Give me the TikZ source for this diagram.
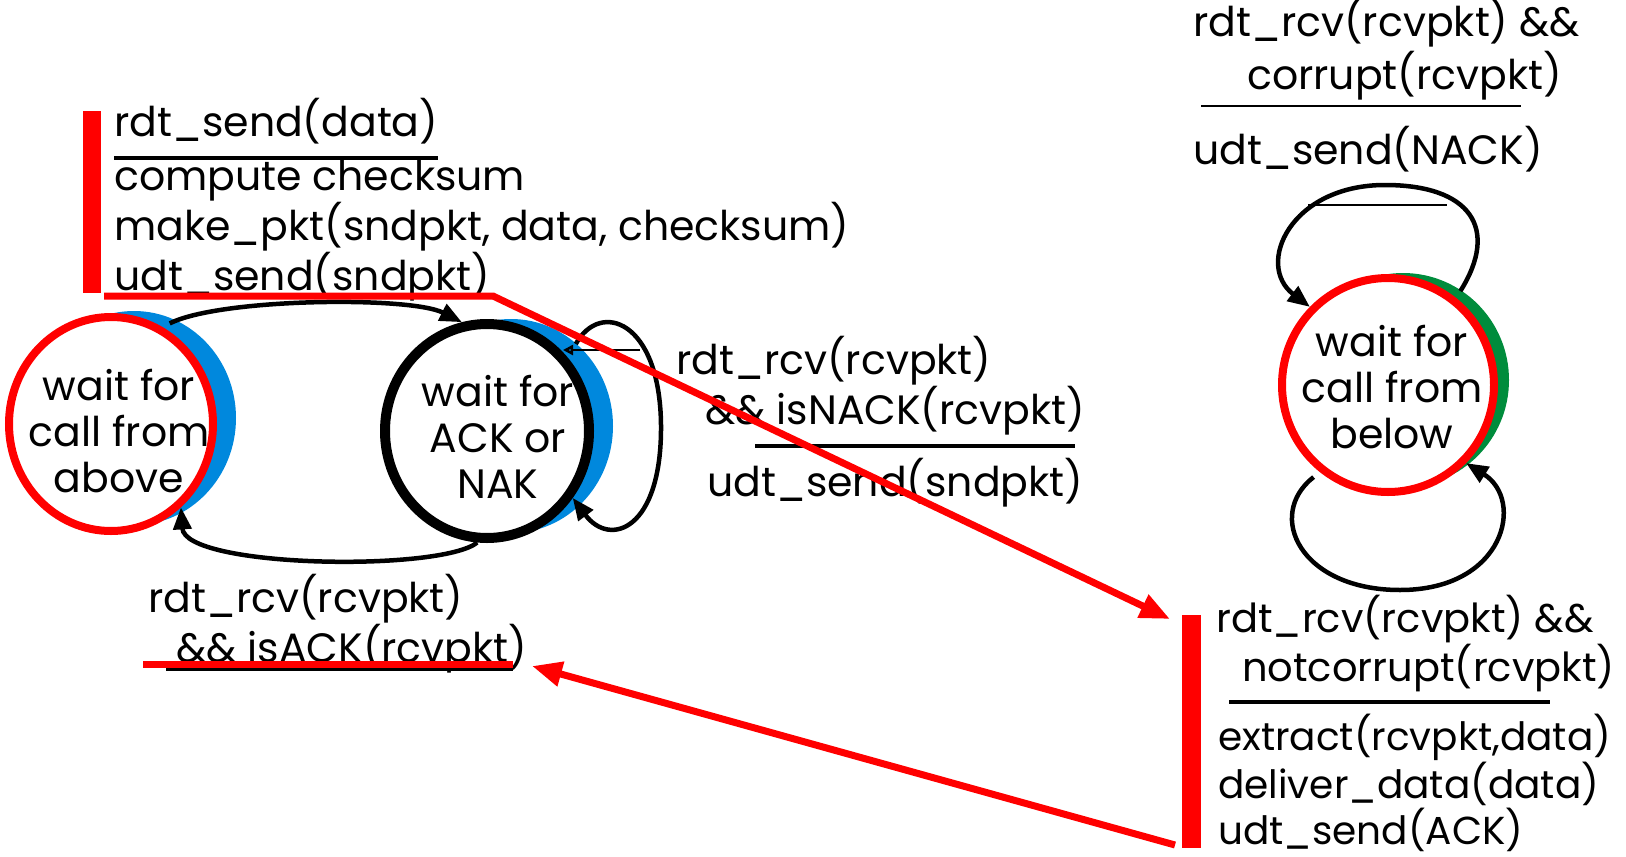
\documentclass[tikz,border=0pt]{standalone}
\usepackage{fontspec}
\setmainfont{Poppins}
\usepackage{tikz}
\usetikzlibrary{arrows.meta,shapes.geometric,positioning}
\definecolor{shadeblue}{RGB}{0,136,221}
\definecolor{shadegreen}{RGB}{0,140,60}

\begin{document}
\begin{tikzpicture}[
  x=1pt, y=-1pt,
  every node/.style={font=\fontsize{41}{46}\selectfont, inner sep=0pt},
  txt/.style={anchor=base west, align=left},
  fsmstate/.style={ellipse, minimum width=204pt, minimum height=214pt, fill=white},
  redring/.style={draw=red, line width=8pt},
  trans/.style={line width=4.5pt, -{Triangle[length=22pt,width=18pt]}},
  rule/.style={line width=4.5pt},
  hilite/.style={red, line width=7pt},
  hiarrow/.style={hilite, -{Triangle[length=30pt,width=24pt]}}
]
\useasboundingbox (0,0) rectangle (1626,857);

% states
\fill[shadeblue] (134,418) ellipse [x radius=102, y radius=107];
\node[fsmstate, redring, label={[xshift=8pt, yshift=-7pt, align=center]center:wait for\\call from\\above}] (above) at (111,424) {};
\fill[shadeblue] (511,426) ellipse [x radius=102, y radius=107];
\node[fsmstate, draw, line width=10pt, label={[xshift=11pt, yshift=-6pt, align=center]center:wait for\\ACK or\\NAK}] (ack) at (487,431) {};
\fill[shadegreen] (1403,380) ellipse [x radius=106, y radius=107];
\node[fsmstate, minimum width=212pt, redring, label={[xshift=4pt, yshift=-2pt, align=center]center:wait for\\call from\\below}] (below) at (1388,385) {};

% sender transitions
\draw[trans, shorten <=8pt] (above.62) .. controls (220,298) and (410,296) .. (ack.103);
\draw[trans] (ack.-95) .. controls (440,572) and (185,568) .. (above.-50);
\draw[trans, shorten <=16pt] (ack.42) .. controls (600,300) and (660,320) .. (661,425) .. controls (662,530) and (610,548) .. (ack.-38);
\coordinate (nacktip) at (563,350);
\coordinate (nackend) at (640,350);
\draw[line width=2.5pt, {Triangle[open,length=10pt,width=10pt]}-] (nacktip) -- (nackend);

% receiver loops
\draw[trans, shorten <=8pt] (below.52) .. controls (1500,228) and (1470,185) .. (1385,185) .. controls (1290,185) and (1255,265) .. (below.135);
\coordinate (barl) at (1308,205);
\coordinate (barr) at (1447,205);
\draw[line width=2.5pt] (barl) -- (barr);
\draw[trans, shorten <=8pt] (below.-128) .. controls (1265,515) and (1300,590) .. (1400,590) .. controls (1505,590) and (1525,500) .. (below.-45);

% labels
\node[txt] (sendguard) at (114,136) {rdt\_send(data)};
\draw[rule] (114,158) -- (438,158);
\node[txt] (sendact) at (114,290) {compute checksum\\make\_pkt(sndpkt, data, checksum)\\udt\_send(sndpkt)};

\node[txt] (nackguard) at (676,424) {rdt\_rcv(rcvpkt)\\\hspace*{29pt}\&\& isNACK(rcvpkt)};
\draw[rule] (755,446) -- (1075,446);
\node[txt] (nackact) at (707,496) {udt\_send(sndpkt)};

\node[txt] (ackguard) at (148,662) {rdt\_rcv(rcvpkt)\\\hspace*{28pt}\&\& isACK(rcvpkt)};
\draw[rule, line width=3pt] (166,669) -- (513,669);

\node[txt] (corrguard) at (1193,89) {rdt\_rcv(rcvpkt) \&\&\\[3pt]\hspace*{54pt}corrupt(rcvpkt)};
\draw[line width=1.5pt] (1201,106) -- (1521,106);
\node[txt] (corract) at (1193,164) {udt\_send(NACK)};

\node[txt, font=\fontsize{40}{46}\selectfont] (recvguard) at (1216,681) {rdt\_rcv(rcvpkt) \&\&\\\hspace*{26pt}notcorrupt(rcvpkt)};
\draw[rule] (1229,702) -- (1550,702);
\node[txt, font=\fontsize{39}{46}\selectfont] (recvact) at (1218,844) {extract(rcvpkt,data)\\deliver\_data(data)\\udt\_send(ACK)};

% highlighted path
\fill[red] (83,111) rectangle (101,293);
\fill[red] (1182,615) rectangle (1201,848);
\coordinate (sendline) at (104,296);
\coordinate (sendbend) at (493,296);
\coordinate (recvtop) at (1170,619);
\draw[hiarrow] (sendline) -- (sendbend) -- (recvtop);
\coordinate (ackl) at (143,664);
\coordinate (ackr) at (513,664);
\draw[hilite] (ackl) -- (ackr);
\coordinate (recvbot) at (1175,845);
\coordinate (acktip) at (532,666);
\draw[hiarrow] (recvbot) -- (acktip);
\end{tikzpicture}
\end{document}
